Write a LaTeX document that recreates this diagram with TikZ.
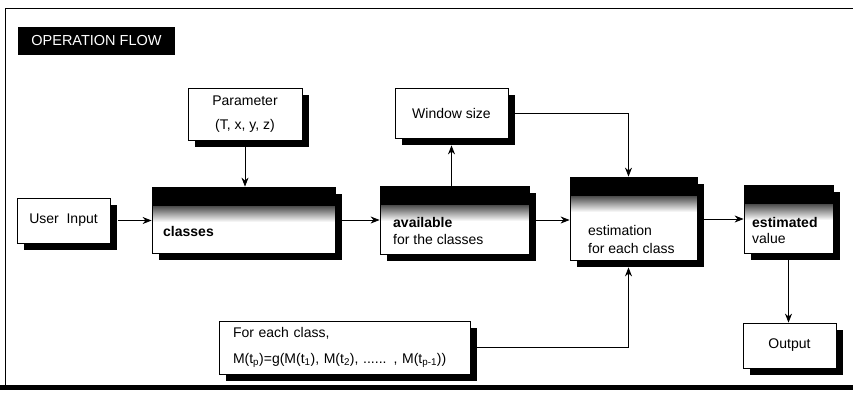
\documentclass[tikz,border=0pt]{standalone}
\usepackage{fontspec}
\setmainfont{Liberation Sans}
\usetikzlibrary{shadows,arrows.meta}
\begin{document}
\begin{tikzpicture}[x=1pt,y=-1pt,
  box/.style={draw=black, line width=0.8pt, fill=white,
    drop shadow={shadow xshift=7pt, shadow yshift=-7pt, fill=black, opacity=1},
    inner sep=0pt, font=\fontsize{14}{18}\selectfont},
  hbox/.style={box, path picture={
    \fill[black] (path picture bounding box.north west) rectangle ([yshift=-19pt]path picture bounding box.north east);
    \shade[top color=black!70, bottom color=white] ([yshift=-19pt]path picture bounding box.north west) rectangle ([yshift=-35pt]path picture bounding box.north east);}},
  arr/.style={-{Stealth[length=9pt,width=7pt]}, line width=0.8pt},
  txt/.style={anchor=west, inner sep=0pt, font=\fontsize{14}{18}\selectfont}]
\useasboundingbox (0,0) rectangle (853,392);
% frame
\draw[line width=0.8pt] (5,387) -- (5,8) -- (853,8);
\draw[line width=5pt] (0,387.5) -- (853,387.5);
\node[fill=black, text=white, minimum width=157pt, minimum height=28pt, inner sep=0pt,
  font=\fontsize{14.5}{18}\selectfont] (title) at (96.5,41) {OPERATION FLOW};
% boxes
\node[box, minimum width=114pt, minimum height=52pt, align=center,
  font=\fontsize{14}{24}\selectfont] (param) at (245,114) {Parameter\\(T, x, y, z)};
\node[box, minimum width=113pt, minimum height=50pt] (win) at (451.5,113) {Window size};
\node[box, minimum width=93pt, minimum height=45pt] (user) at (63.5,220.5) {User~ Input};
\node[hbox, minimum width=183pt, minimum height=66pt] (b1) at (243.5,220) {};
\node[hbox, minimum width=149pt, minimum height=68pt] (b2) at (454.5,220) {};
\node[hbox, minimum width=127pt, minimum height=83pt] (b3) at (633.5,218.5) {};
\node[hbox, minimum width=89pt, minimum height=68pt] (b4) at (788.5,219) {};
\node[box, minimum width=93pt, minimum height=45pt] (out) at (789.5,345.5) {Output};
\node[box, minimum width=251pt, minimum height=53pt, text width=223pt, align=left,
  inner xsep=14pt, font=\fontsize{14}{26}\selectfont] (each) at (344.5,347.5)
  {For each class,\\M(t\textsubscript{p})=g(M(t\textsubscript{1}), M(t\textsubscript{2}), ...... , M(t\textsubscript{p-1}))};
% texts in header boxes
\node[txt, font=\fontsize{14}{18}\bfseries] (t1) at (163,231) {classes};
\node[txt, font=\fontsize{14}{18}\bfseries] (t2a) at (393,222) {available};
\node[txt] (t2b) at (393,239) {for the classes};
\node[txt] (t3a) at (588,230) {estimation};
\node[txt] (t3b) at (588,248) {for each class};
\node[txt, font=\fontsize{14}{18}\bfseries] (t4a) at (752,222) {estimated};
\node[txt] (t4b) at (752,238) {value};
% connectors
\draw[arr] ([xshift=8pt]user.east) -- (user.east -| b1.west);
\draw[arr] ([yshift=-7pt]param.south) -- (param.south |- b1.north);
\draw[arr] (win.south |- b2.north) -- ([yshift=-7pt]win.south);
\draw[arr] ([xshift=7pt]win.east) -| ([xshift=-5pt]b3.north);
\draw[arr] ([xshift=7pt]b1.east) -- (b2.west);
\draw[arr] ([xshift=7pt]b2.east) -- (b2.east -| b3.west);
\draw[arr] ([xshift=6pt]b3.east |- b4.west) -- (b4.west);
\draw[arr] ([xshift=7pt]each.east) -| ([xshift=-5pt,yshift=-7pt]b3.south);
\draw[arr] ([yshift=-7pt]b4.south) -- (b4.south |- out.north);
\end{tikzpicture}
\end{document}
